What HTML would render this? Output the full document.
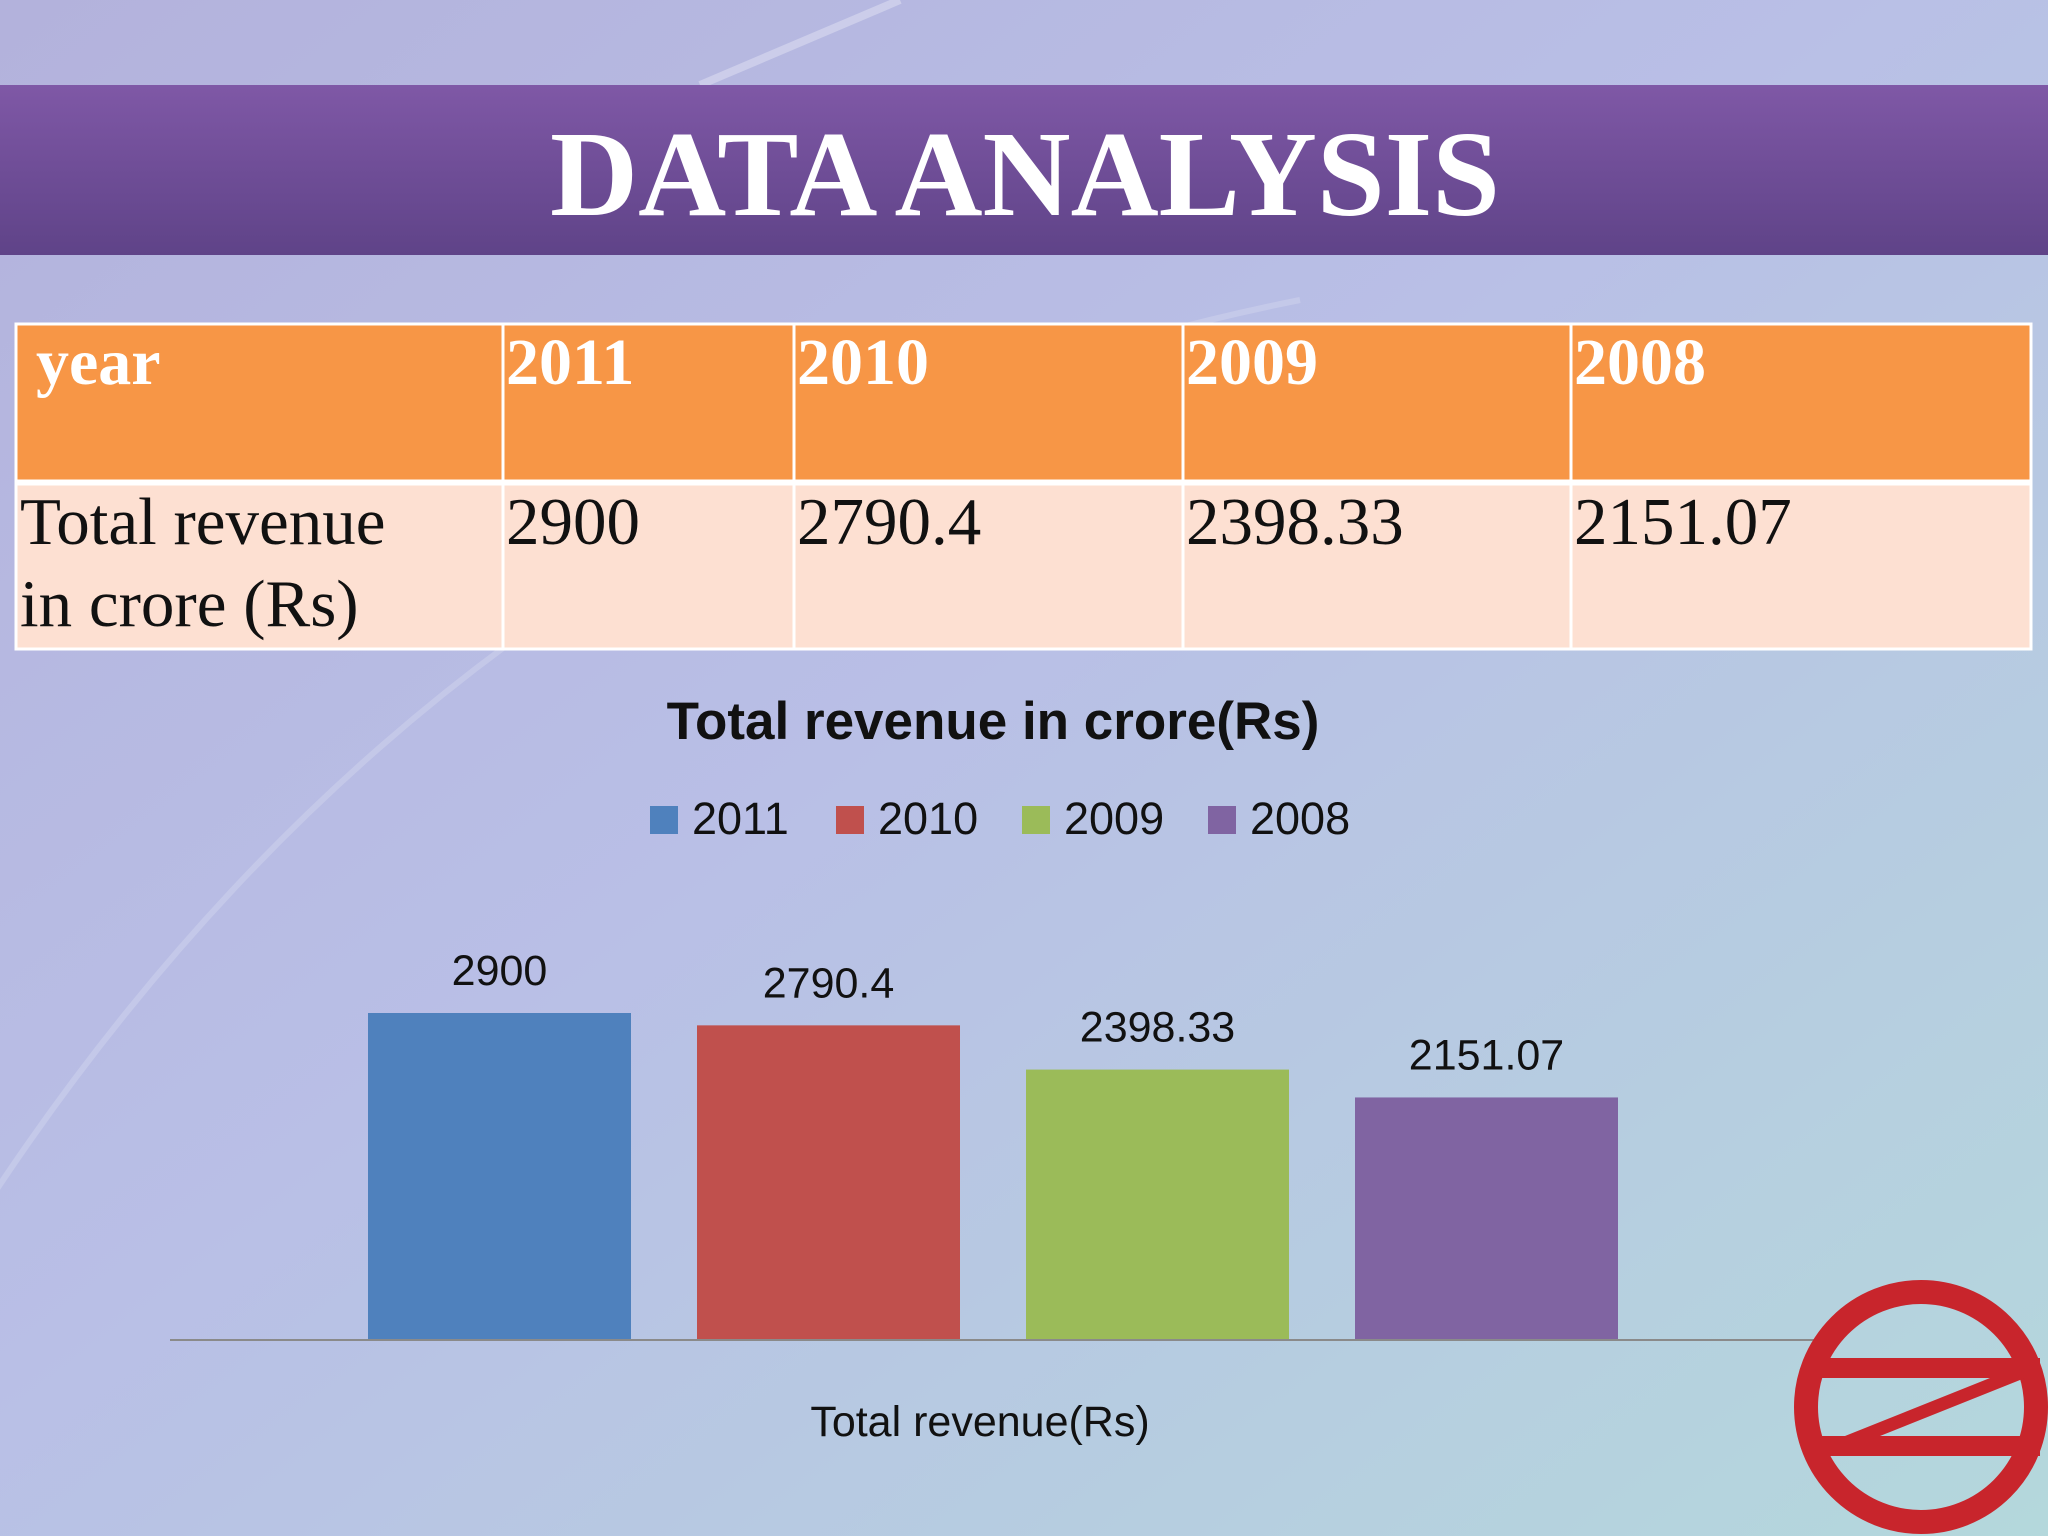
<!DOCTYPE html>
<html><head><meta charset="utf-8"><style>
html,body{margin:0;padding:0;width:2048px;height:1536px;overflow:hidden}
svg{display:block}
</style></head><body>
<svg width="2048" height="1536" viewBox="0 0 2048 1536" xmlns="http://www.w3.org/2000/svg">
<defs>
<linearGradient id="bg" x1="0" y1="0" x2="1" y2="1">
<stop offset="0" stop-color="#b3b2dc"/><stop offset="0.45" stop-color="#b9bfe6"/><stop offset="1" stop-color="#b4d8dc"/>
</linearGradient>
<linearGradient id="hd" x1="0" y1="0" x2="0" y2="1">
<stop offset="0" stop-color="#7f58a6"/><stop offset="1" stop-color="#5f4388"/>
</linearGradient>
</defs>
<rect width="2048" height="1536" fill="url(#bg)"/>
<path d="M-200 1536 Q300 500 1300 300" stroke="#ffffff" stroke-opacity="0.18" stroke-width="6" fill="none"/>
<path d="M700 85 L900 0" stroke="#ffffff" stroke-opacity="0.3" stroke-width="8"/>
<rect x="0" y="85" width="2048" height="170" fill="url(#hd)"/>
<text x="1025" y="215" text-anchor="middle" font-family="Liberation Serif, serif" font-weight="bold" font-size="122" fill="#fff" textLength="950" lengthAdjust="spacingAndGlyphs">DATA ANALYSIS</text>

<g>
<rect x="16" y="324" width="2015" height="157" fill="#f79646" stroke="#fff" stroke-width="3"/>
<rect x="16" y="484" width="2015" height="165" fill="#fde0d2" stroke="#fff" stroke-width="3"/>
<g stroke="#fff" stroke-width="3"><line x1="503" y1="324" x2="503" y2="649"/><line x1="794" y1="324" x2="794" y2="649"/><line x1="1183" y1="324" x2="1183" y2="649"/><line x1="1571" y1="324" x2="1571" y2="649"/></g>
<g font-family="Liberation Serif, serif" font-weight="bold" font-size="66" fill="#fff">
<text x="36" y="384">year</text><text x="506" y="384">2011</text><text x="797" y="384">2010</text><text x="1186" y="384">2009</text><text x="1574" y="384">2008</text>
</g>
<g font-family="Liberation Serif, serif" font-size="67" fill="#111">
<text x="20" y="544">Total revenue</text><text x="20" y="626">in crore (Rs)</text>
<text x="506" y="544">2900</text><text x="797" y="544">2790.4</text><text x="1186" y="544">2398.33</text><text x="1574" y="544">2151.07</text>
</g>
</g>

<text x="993" y="739" text-anchor="middle" font-family="Liberation Sans, sans-serif" font-weight="bold" font-size="53" fill="#111">Total revenue in crore(Rs)</text>
<g id="legend"></g>
<g id="bars"></g>
<line x1="170" y1="1340" x2="1815" y2="1340" stroke="#8a8a8a" stroke-width="2"/>
<text x="980" y="1436" text-anchor="middle" font-family="Liberation Sans, sans-serif" font-size="43" fill="#111">Total revenue(Rs)</text>

<g>
<circle cx="1921" cy="1407" r="115" fill="none" stroke="#c8252c" stroke-width="24"/>
<rect x="1805" y="1358" width="235" height="20" fill="#c8252c"/>
<rect x="1805" y="1436" width="235" height="20" fill="#c8252c"/>
<polygon points="1990,1378 2025,1378 1880,1436 1845,1436" fill="#c8252c"/>
</g>
</svg>
<script>
const categories = ["2011","2010","2009","2008"];
const values = [2900, 2790.4, 2398.33, 2151.07];
const valueLabels = ["2900","2790.4","2398.33","2151.07"];
const colors = ["#4f81bd","#c0504d","#9bbb59","#8064a2"];
const NS = "http://www.w3.org/2000/svg";
const baseY = 1340, ppu = 327/2900;
const y = v => baseY - v*ppu;
const x0 = 368, step = 329, bw = 263;
const x = i => x0 + i*step;
const bars = document.getElementById('bars');
const legend = document.getElementById('legend');
values.forEach((v,i)=>{
  const r = document.createElementNS(NS,'rect');
  
  
  r.setAttribute('x', x(i)); r.setAttribute('y', y(v));
  r.setAttribute('width', bw); r.setAttribute('height', baseY - y(v));
  r.setAttribute('fill', colors[i]);
  bars.appendChild(r);
  const t = document.createElementNS(NS,'text');
  
  
  t.setAttribute('x', x(i)+bw/2); t.setAttribute('y', y(v)-28);
  t.setAttribute('text-anchor','middle');
  t.setAttribute('font-family','Liberation Sans, sans-serif');
  t.setAttribute('font-size','43'); t.setAttribute('fill','#111');
  t.textContent = valueLabels[i];
  bars.appendChild(t);
  const lx = 650 + i*186;
  const s = document.createElementNS(NS,'rect');
  
  
  s.setAttribute('x', lx); s.setAttribute('y', 806); s.setAttribute('width', 28); s.setAttribute('height', 28);
  s.setAttribute('fill', colors[i]);
  legend.appendChild(s);
  const lt = document.createElementNS(NS,'text');
  
  
  lt.setAttribute('x', lx+42); lt.setAttribute('y', 834);
  lt.setAttribute('font-family','Liberation Sans, sans-serif');
  lt.setAttribute('font-size','45'); lt.setAttribute('fill','#111');
  lt.textContent = categories[i];
  legend.appendChild(lt);
});
</script>
</body></html>
